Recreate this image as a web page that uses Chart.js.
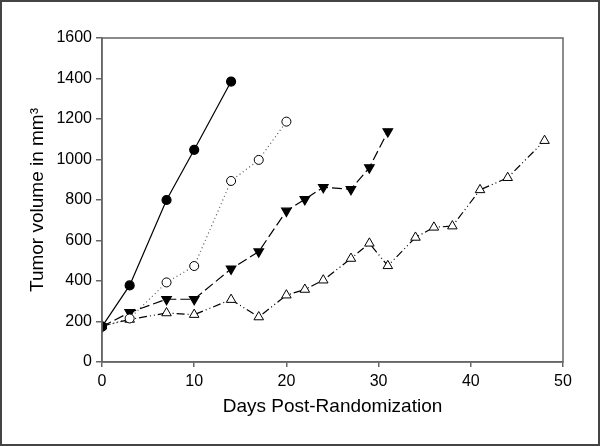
<!DOCTYPE html>
<html>
<head>
<meta charset="utf-8">
<script src="https://cdn.jsdelivr.net/npm/chart.js@4"></script>
<style>
  html, body { margin: 0; padding: 0; background: #fff; }
  #wrap { width: 600px; height: 446px; }
</style>
</head>
<body>
<div id="wrap"><canvas id="tumor-canvas" width="600" height="446"></canvas></div>
<script>
var xTicks = [0, 10, 20, 30, 40, 50];
var yTicks = [0, 200, 400, 600, 800, 1000, 1200, 1400, 1600];

var daysA = [0, 3, 7, 10, 14];
var volA = [175, 378, 800, 1048, 1385];

var daysB = [0, 3, 7, 10, 14, 17, 20];
var volB = [175, 215, 393, 474, 894, 998, 1187];

var daysC = [0, 3, 7, 10, 14, 17, 20, 22, 24, 27, 29, 31];
var volC = [175, 245, 310, 310, 460, 545, 746, 803, 863, 853, 960, 1138];

var daysD = [0, 3, 7, 10, 14, 17, 20, 22, 24, 27, 29, 31, 34, 36, 38, 41, 44, 48];
var volD = [177, 210, 242, 234, 308, 222, 330, 358, 404, 511, 586, 475, 615, 665, 671, 850, 910, 1093];

function pts(xs, ys) {
    return xs.map(function (x, i) { return { x: x, y: ys[i] }; });
}

var fontFamily = "'Liberation Sans', Arial, sans-serif";

// white background, outer frame and plot box
var framePlugin = {
    id: 'frame',
    beforeDraw: function (chart) {
        var ctx = chart.ctx;
        ctx.save();
        ctx.fillStyle = '#fff';
        ctx.fillRect(0, 0, chart.width, chart.height);
        ctx.restore();
    },
    afterDraw: function (chart) {
        var ctx = chart.ctx, a = chart.chartArea;
        ctx.save();
        ctx.strokeStyle = '#444';
        ctx.lineWidth = 2;
        ctx.strokeRect(1, 1, chart.width - 2, chart.height - 2);
        ctx.strokeStyle = '#666';
        ctx.lineWidth = 1.5;
        ctx.strokeRect(a.left, a.top, a.right - a.left, a.bottom - a.top);
        ctx.restore();
    }
};

new Chart("tumor-canvas", {
    type: "line",
    data: {
        datasets: [{
            data: pts(daysA, volA),
            borderColor: '#000',
            borderWidth: 1.2,
            pointStyle: 'circle',
            pointRadius: 4.5,
            pointBackgroundColor: '#000',
            pointBorderColor: '#000'
        }, {
            data: pts(daysB, volB),
            borderColor: '#555',
            borderWidth: 1.2,
            borderDash: [1, 3],
            pointStyle: 'circle',
            pointRadius: 4.5,
            pointBackgroundColor: '#fff',
            pointBorderColor: '#000',
            pointBorderWidth: 1
        }, {
            data: pts(daysC, volC),
            borderColor: '#000',
            borderWidth: 1.2,
            borderDash: [10, 4],
            pointStyle: 'triangle',
            rotation: 180,
            pointRadius: 5.5,
            pointBackgroundColor: '#000',
            pointBorderColor: '#000'
        }, {
            data: pts(daysD, volD),
            borderColor: '#000',
            borderWidth: 1.2,
            borderDash: [8, 3, 1, 3, 1, 3],
            pointStyle: 'triangle',
            pointRadius: 5.5,
            pointBackgroundColor: '#fff',
            pointBorderColor: '#000',
            pointBorderWidth: 1
        }]
    },
    options: {
        responsive: false,
        animation: false,
        layout: { padding: { top: 38, right: 37, left: 0, bottom: 0 } },
        plugins: {
            legend: { display: false },
            tooltip: { enabled: false }
        },
        elements: { line: { tension: 0, fill: false } },
        scales: {
            x: {
                type: 'linear',
                min: 0,
                max: 50,
                afterFit: function (s) { s.height = 84; },
                afterBuildTicks: function (s) { s.ticks = xTicks.map(function (v) { return { value: v }; }); },
                border: { display: true, color: '#666', width: 1.5 },
                grid: { drawOnChartArea: false, drawTicks: true, tickLength: 5, color: '#666', lineWidth: 1.5 },
                ticks: {
                    color: '#000', padding: 5, maxRotation: 0,
                    font: { family: fontFamily, size: 16 },
                    callback: function (v) { return String(v); }
                },
                title: {
                    display: true,
                    text: 'Days Post-Randomization',
                    color: '#000',
                    font: { family: fontFamily, size: 19 },
                    padding: { top: 0, bottom: 28 }
                }
            },
            y: {
                type: 'linear',
                min: 0,
                max: 1600,
                afterFit: function (s) { s.width = 102; },
                afterBuildTicks: function (s) { s.ticks = yTicks.map(function (v) { return { value: v }; }); },
                border: { display: true, color: '#666', width: 1.5 },
                grid: { drawOnChartArea: false, drawTicks: true, tickLength: 6, color: '#666', lineWidth: 1.5 },
                ticks: {
                    color: '#000', padding: 4,
                    font: { family: fontFamily, size: 16 },
                    callback: function (v) { return String(v); }
                },
                title: {
                    display: true,
                    text: 'Tumor volume in mm\u00B3',
                    color: '#000',
                    font: { family: fontFamily, size: 19 },
                    padding: { top: 26, bottom: 0 }
                }
            }
        }
    },
    plugins: [framePlugin]
});
</script>
</body>
</html>
